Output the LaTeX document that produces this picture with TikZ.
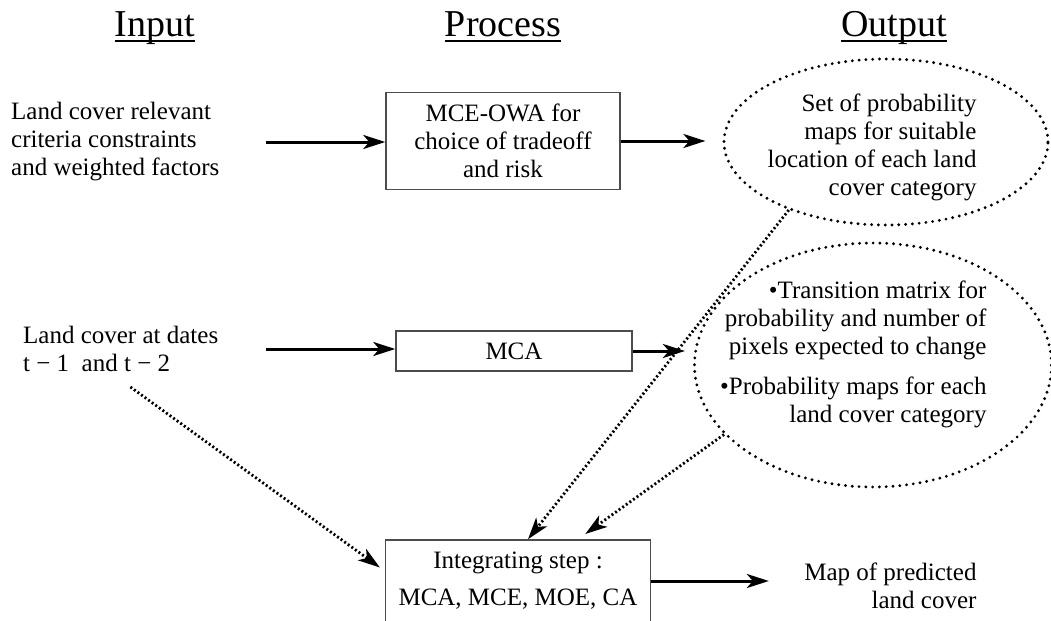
\documentclass[tikz,border=0pt]{standalone}
\usepackage{fontspec}
\setmainfont{Liberation Serif}
\usetikzlibrary{arrows.meta,shapes.geometric}
\newcommand{\headrule}[1]{\setbox0\hbox{#1}\rlap{\copy0}\rule[-3pt]{\wd0}{1pt}}

\begin{document}
\begin{tikzpicture}[x=0.5pt,y=-0.5pt,>={Stealth[length=11pt,width=7pt,inset=3pt]},line width=1.5pt,
  every node/.style={font=\fontsize{12.5}{14}\selectfont},
  heading/.style={anchor=base,font=\fontsize{19}{22}\selectfont},
  box/.style={draw=black!70,line width=0.75pt,align=center,inner sep=0pt},
  oval/.style={ellipse,draw,line width=1.6pt,line cap=round,dash pattern=on 0pt off 3.4pt,inner sep=0pt},
  dotarrow/.style={->,line width=1.4pt,dash pattern=on 1pt off 1.2pt}]
  \useasboundingbox (0,0) rectangle (1051,621);
  % column headings
  \node[heading] (hin) at (155,36) {\headrule{Input}};
  \node[heading] (hpro) at (503,36) {\headrule{Process}};
  \node[heading] (hout) at (894,36) {\headrule{Output}};
  % first row
  \node[anchor=west,align=left] (crit) at (3,142) {Land cover relevant\\criteria constraints\\and weighted factors};
  \node[box,minimum width=117pt,minimum height=48.5pt] (owa) at (503,141) {MCE-OWA for\\choice of tradeoff\\and risk};
  \node[oval,minimum width=162pt,minimum height=83pt] (suit) at (886,142) {};
  \node[anchor=east,align=right,inner sep=0pt] (suittxt) at (978,147) {Set of probability\\maps for suitable\\location of each land\\cover category};
  % second row
  \node[anchor=west,align=left] (dates) at (15,349) {Land cover at dates\\t − 1\ \ and t − 2};
  \node[box,minimum width=118pt,minimum height=20pt] (mca) at (514,351) {MCA};
  \node[oval,minimum width=178.5pt,minimum height=122pt] (trans) at (873,365) {};
  \node[anchor=east,align=right,inner sep=0pt] (transtxt) at (988,354) {•Transition matrix for\\probability and number of\\pixels expected to change\\[6pt]•Probability maps for each\\land cover category};
  % third row
  \node[box,minimum width=132.5pt,minimum height=41pt] (integ) at (518,581) {Integrating step :\\[4.5pt]MCA, MCE, MOE, CA};
  \node[anchor=east,align=right,inner sep=0pt] (pred) at (978,586) {Map of predicted\\land cover};
  % connectors
  \draw[->,shorten <=19pt] (crit.east) -- (crit.east -| owa.west);
  \draw[->,shorten >=8.5pt] (owa.east) -- (owa.east -| suit.west);
  \draw[->,shorten <=20pt] (dates.east) -- (dates.east -| mca.west);
  \draw[->,shorten >=4pt] (mca.east) -- (mca.east -| trans.west);
  \draw[->,shorten >=17pt] (integ.east) -- (integ.east -| pred.west);
  \draw[dotarrow,shorten <=6pt,shorten >=3pt] (dates.south) -- ([yshift=5pt]integ.west);
  \draw[dotarrow] (suit.215) -- ([xshift=5pt]integ.north);
  \draw[dotarrow,shorten >=4.5pt] (trans.205) -- ([xshift=30pt]integ.north);
\end{tikzpicture}
\end{document}
